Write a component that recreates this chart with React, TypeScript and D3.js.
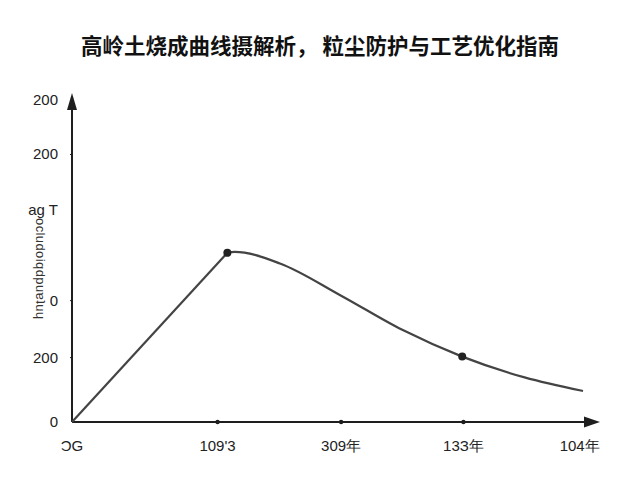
import React from "react";
import * as d3 from "d3";

const titleText = "高岭土烧成曲线摄解析， 粒尘防护与工艺优化指南";

// x axis (firing time, arbitrary units)
const xTickValues = [0, 1.19, 2.2, 3.2, 4.15];
const xTickLabels = ["ƆG", "109'3", "309年", "13З年", "104年"];
const xTickMarks = [1.19, 2.2, 3.2];

// y axis (temperature)
const yTickValues = [1300, 1080, 855, 490, 260, 0];
const yTickLabels = ["200", "200", "ag T", "0", "200", "0"];
const yTickMarks = [1080, 490, 260];
const yAxisTitle = "ocludoiqdpuɐʇuɥ";

// curve: heating ramp then cooling
const riseX = [0, 1.27];
const riseY = [0, 683];
const fallX = [1.27, 1.33, 1.7, 2.2, 2.7, 3.19, 3.7, 4.17];
const fallY = [683, 687, 640, 510, 372, 264, 180, 126];
const dotX = [1.27, 3.19];
const dotY = [683, 264];

export default function App() {
  const W = 640, H = 480;
  const x = d3.scaleLinear().domain([0, 4.3]).range([72, 598]);
  const y = d3.scaleLinear().domain([0, 1300]).range([422, 100]);
  const rise = d3.line<number>().x((d) => x(riseX[d])).y((d) => y(riseY[d]))(riseX.map((_, i) => i));
  const fall = d3
    .line<number>()
    .x((d) => x(fallX[d]))
    .y((d) => y(fallY[d]))
    .curve(d3.curveMonotoneX)(fallX.map((_, i) => i));
  const ax = "#1e1e1e";
  const font = "'Liberation Sans', Arial, sans-serif";
  return (
    <svg width={W} height={H} style={{ position: "absolute", left: 0, top: 0, background: "#fff" }}>
      <rect width={W} height={H} fill="#fff" />
      <text x={320} y={54} textAnchor="middle" fontFamily="'Noto Sans CJK SC', sans-serif" fontWeight={700} fontSize={21.5} fill="#111">
        {titleText}
      </text>
      {/* axes */}
      <line x1={x(0)} y1={y(0)} x2={x(0)} y2={106} stroke={ax} strokeWidth={2} />
      <path d={`M${x(0) - 5},${110} L${x(0)},${93} L${x(0) + 5},${110} Z`} fill={ax} />
      <line x1={x(0)} y1={y(0)} x2={586} y2={y(0)} stroke={ax} strokeWidth={2} />
      <path d={`M${584},${y(0) - 5.5} L${600},${y(0)} L${584},${y(0) + 5.5} Z`} fill={ax} />
      {xTickMarks.map((v, i) => (
        <circle key={i} cx={x(v)} cy={y(0)} r={2.2} fill={ax} />
      ))}
      {yTickMarks.map((v, i) => (
        <line key={i} x1={x(0) - 2} x2={x(0)} y1={y(v)} y2={y(v)} stroke={ax} strokeWidth={1} />
      ))}
      {xTickValues.map((v, i) => (
        <text key={i} x={x(v)} y={451} textAnchor="middle" fontFamily={font} fontSize={15} fill="#222">
          {xTickLabels[i]}
        </text>
      ))}
      {yTickValues.map((v, i) => (
        <text key={i} x={58} y={y(v) + 5} textAnchor="end" fontFamily={font} fontSize={15} fill="#222">
          {yTickLabels[i]}
        </text>
      ))}
      <text
        transform={`translate(36,218) rotate(90)`}
        fontFamily={font}
        fontSize={13}
        letterSpacing={0.4}
        fill="#333"
      >
        {yAxisTitle}
      </text>
      {/* curve */}
      <path d={rise || ""} fill="none" stroke="#444" strokeWidth={2.2} />
      <path d={fall || ""} fill="none" stroke="#444" strokeWidth={2.2} strokeLinecap="round" />
      {dotX.map((v, i) => (
        <circle key={i} cx={x(v)} cy={y(dotY[i])} r={4} fill="#222" />
      ))}
    </svg>
  );
}
